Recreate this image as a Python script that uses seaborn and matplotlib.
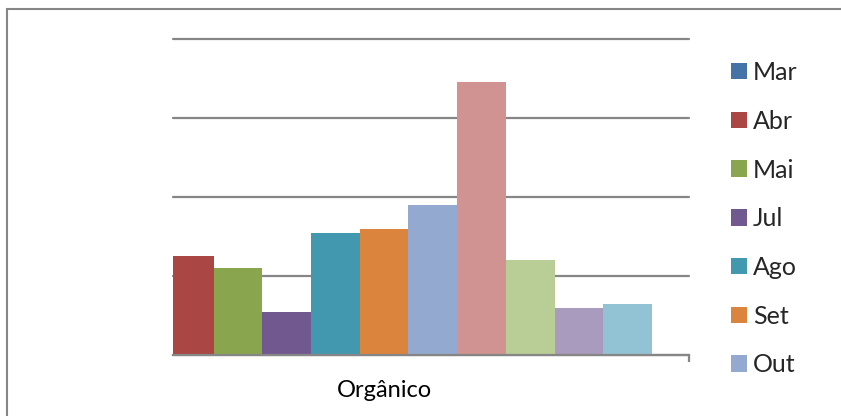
import matplotlib
matplotlib.use("Agg")
import matplotlib.pyplot as plt
from matplotlib.patches import Rectangle
import pandas as pd
import seaborn as sns

sns.set_theme(style="white")
plt.rcParams["font.family"] = ["Lato", "DejaVu Sans"]

CATEGORIES = ["Orgânico"]
MONTHS = ["Mar", "Abr", "Mai", "Jul", "Ago", "Set", "Out", "Nov", "Dez", "Jan", "Fev"]
VALUES = [0, 12.5, 11, 5.4, 15.4, 16, 19, 34.5, 12, 6, 6.5]
COLORS = ["#4572A7", "#AA4643", "#89A54E", "#71588F", "#4198AF", "#DB843D",
          "#93A9CF", "#D19392", "#B9CD96", "#A99BBD", "#92C3D5"]
LEGEND_SHOWN = 7  # the original legend is cut off after "Out"

GRID = "#868686"

df = pd.DataFrame({
    "categoria": CATEGORIES * len(MONTHS),
    "mes": MONTHS,
    "valor": VALUES,
})

fig = plt.figure(figsize=(8.41, 4.16), dpi=100)
fig.patch.set_facecolor("white")
ax = fig.add_axes([173 / 841, 61 / 416, 516 / 841, 316 / 416])

sns.barplot(data=df, x="categoria", y="valor", hue="mes", hue_order=MONTHS,
            palette=COLORS, saturation=1, width=0.8, linewidth=0, ax=ax)

# plot area is narrower than the cluster, so the first bars get cut
ax.set_xlim(-0.315, 0.455)
ax.set_ylim(0, 40)
ax.set_yticks([0, 10, 20, 30, 40])
ax.set_yticklabels([])
ax.yaxis.grid(True, color=GRID, linewidth=1.6)
for gl in ax.get_ygridlines():
    gl.set_clip_on(False)
ax.set_axisbelow(True)
ax.set_xlabel("")
ax.set_ylabel("")

for side in ["left", "right", "top"]:
    ax.spines[side].set_visible(False)
ax.spines["bottom"].set_color(GRID)
ax.spines["bottom"].set_linewidth(1.6)

ax.tick_params(axis="x", which="major", length=0, pad=18, labelsize=17, labelcolor="black")
ax.set_xticks([0.455], minor=True)
ax.tick_params(axis="x", which="minor", length=5, width=1.6, color=GRID, direction="out", bottom=True)
ax.tick_params(axis="y", length=0)

handles, labels = ax.get_legend_handles_labels()
ax.legend(handles[:LEGEND_SHOWN], labels[:LEGEND_SHOWN], loc="upper left",
          bbox_to_anchor=(731 / 841, 355 / 416), bbox_transform=fig.transFigure,
          frameon=False, fontsize=18, handlelength=0.64, handleheight=0.64,
          handletextpad=0.24, labelspacing=1.03, borderaxespad=0, borderpad=0)

# outer chart border, running off the right and bottom edges
fig.patches.append(Rectangle((7 / 841, -0.1), 1.2, (416 - 9) / 416 + 0.1,
                             transform=fig.transFigure, fill=False,
                             edgecolor=GRID, linewidth=1.5))

fig.savefig("out.png", dpi=100, facecolor="white")
